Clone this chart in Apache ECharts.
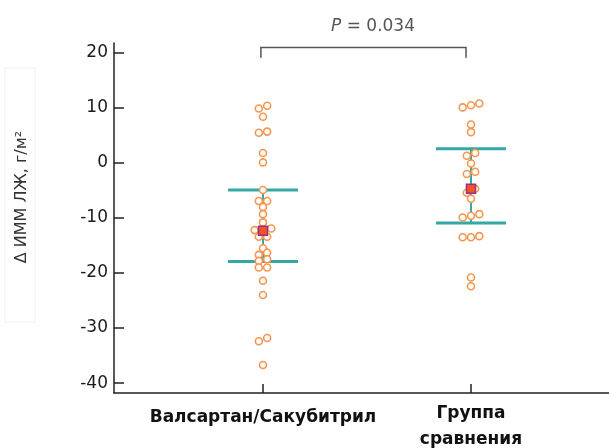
<!DOCTYPE html>
<html>
<head>
<meta charset="utf-8">
<script src="https://cdn.jsdelivr.net/npm/echarts@6/dist/echarts.min.js"></script>
<style>
html,body{margin:0;padding:0;background:#fff;}
#c{width:609px;height:448px;}
</style>
</head>
<body>
<div id="c"></div>
<script>
// ---- data ----
const categories = ['Валсартан/Сакубитрил', 'Группа\nсравнения'];
const groupA = [10.4, 9.9, 8.4, 5.7, 5.5, 1.8, 0.1, -4.9, -6.9, -6.9, -8.0, -9.3, -10.8, -11.9, -12.2,
  -13.4, -13.4, -15.5, -16.3, -16.7, -17.5, -17.8, -19.0, -19.0, -21.4, -24.0, -31.8, -32.4, -36.7];
const slotA  = [1, -1, 0, 1, -1, 0, 0, 0, -1, 1, 0, 0, 0, 2, -2,
  -1, 1, 0, 1, -1, 1, -1, -1, 1, 0, 0, 1, -1, 0];
const groupB = [10.8, 10.5, 10.1, 7.0, 5.6, 1.8, 1.3, -0.1, -1.6, -2.0, -4.7, -5.4, -6.5,
  -9.3, -9.6, -9.9, -13.3, -13.5, -13.5, -20.8, -22.4];
const slotB  = [2, 0, -2, 0, 0, 1, -1, 0, 1, -1, 1, -1, 0,
  2, 0, -2, 2, 0, -2, 0, 0];
const summaryCenter = [-12.3, -4.7];
const summaryUpper = [-4.9, 2.6];
const summaryLower = [-17.9, -10.9];
const yTicks = [-40, -30, -20, -10, 0, 10, 20];
const yAxisName = 'Δ ИММ ЛЖ, г/м²';
const pValue = '0.034';

// ---- build ----
const slotWidth = 0.02;
const pts = [];
[groupA, groupB].forEach((g, gi) => {
  const slots = gi === 0 ? slotA : slotB;
  g.forEach((v, i) => pts.push([gi + 1 + slots[i] * slotWidth, v]));
});
const barData = summaryCenter.map((c, i) => [i + 1, summaryLower[i], summaryUpper[i], c]);
const meanData = summaryCenter.map((c, i) => [i + 1, c]);

const teal = '#33A8A4';
const orange = '#F7964F';
const FONT = 'DejaVu Sans';

const chart = echarts.init(document.getElementById('c'), null, {renderer: 'canvas'});
chart.setOption({
  animation: false,
  backgroundColor: '#fff',
  title: {
    text: '{i|P} = ' + pValue,
    left: 368, top: 13, textAlign: 'center',
    textStyle: {
      fontFamily: FONT, fontSize: 17, fontWeight: 'normal', color: '#555',
      rich: { i: { fontFamily: FONT, fontStyle: 'italic', fontSize: 17, color: '#555' } }
    }
  },
  graphic: [
    { type: 'rect', shape: { x: 5, y: 68, width: 30, height: 254 }, style: { fill: 'none', stroke: '#f1f1f1', lineWidth: 1 }, silent: true },
    { type: 'text', x: 22, y: 197, rotation: Math.PI / 2, silent: true,
      style: { text: yAxisName, fontFamily: FONT, fontSize: 16, fill: '#333', align: 'center', verticalAlign: 'middle' } }
  ],
  grid: { left: 114, right: 0, top: 43, bottom: 55, outerBoundsMode: 'none', containLabel: false },
  xAxis: {
    type: 'value', min: 0.2837, max: 2.6635,
    splitLine: { show: false },
    axisLine: { show: true, onZero: false, lineStyle: { color: '#222', width: 1.5 } },
    axisTick: { show: true, inside: true, length: 9, customValues: [1, 2], lineStyle: { color: '#222', width: 1.5 } },
    axisLabel: {
      customValues: [1, 2], margin: 8,
      fontFamily: FONT, fontSize: 17, fontWeight: 'bold', color: '#111', lineHeight: 26,
      formatter: v => {
        const name = categories[Math.round(v) - 1];
        return name.indexOf('\n') >= 0 ? name : '{s|' + name + '}';
      },
      rich: { s: { fontFamily: FONT, fontSize: 17, fontWeight: 'bold', color: '#111', lineHeight: 26, padding: [7, 0, 0, 0] } }
    }
  },
  yAxis: {
    type: 'value', min: -41.8, max: 21.8,
    splitLine: { show: false },
    axisLine: { show: true, onZero: false, lineStyle: { color: '#222', width: 1.5 } },
    axisTick: { show: true, inside: true, length: 10, customValues: yTicks, lineStyle: { color: '#222', width: 1.5 } },
    axisLabel: { customValues: yTicks, margin: 6, fontFamily: FONT, fontSize: 17, color: '#1a1a1a' }
  },
  series: [
    {
      type: 'custom', z: 1, data: barData, clip: false,
      renderItem: (params, api) => {
        const x = api.value(0);
        const pLow = api.coord([x, api.value(1)]);
        const pHigh = api.coord([x, api.value(2)]);
        const hw = 35;
        return {
          type: 'group', children: [
            { type: 'line', shape: { x1: pLow[0], y1: pLow[1], x2: pHigh[0], y2: pHigh[1] }, style: { stroke: teal, lineWidth: 2 } },
            { type: 'line', shape: { x1: pLow[0] - hw, y1: pLow[1], x2: pLow[0] + hw, y2: pLow[1] }, style: { stroke: teal, lineWidth: 3 } },
            { type: 'line', shape: { x1: pHigh[0] - hw, y1: pHigh[1], x2: pHigh[0] + hw, y2: pHigh[1] }, style: { stroke: teal, lineWidth: 3 } }
          ]
        };
      }
    },
    {
      type: 'scatter', z: 2, data: pts, symbol: 'circle', symbolSize: 7,
      itemStyle: { color: '#fff', borderColor: orange, borderWidth: 1.6, opacity: 1 }
    },
    {
      type: 'scatter', z: 3, data: meanData, symbol: 'rect', symbolSize: 9,
      itemStyle: { color: '#F2561F', borderColor: '#9B2C90', borderWidth: 1.5, opacity: 1 }
    },
    {
      type: 'custom', z: 4, data: [[1, 2, 21.0, 19.1]], clip: false,
      renderItem: (params, api) => {
        const a = api.coord([api.value(0) - 0.01, api.value(2)]);
        const b = api.coord([api.value(1) - 0.024, api.value(2)]);
        const a2 = api.coord([api.value(0) - 0.01, api.value(3)]);
        return {
          type: 'polyline',
          shape: { points: [[a[0], a2[1]], a, b, [b[0], a2[1]]] },
          style: { stroke: '#555', lineWidth: 1.5, fill: 'none' }
        };
      }
    }
  ]
});
</script>
</body>
</html>
